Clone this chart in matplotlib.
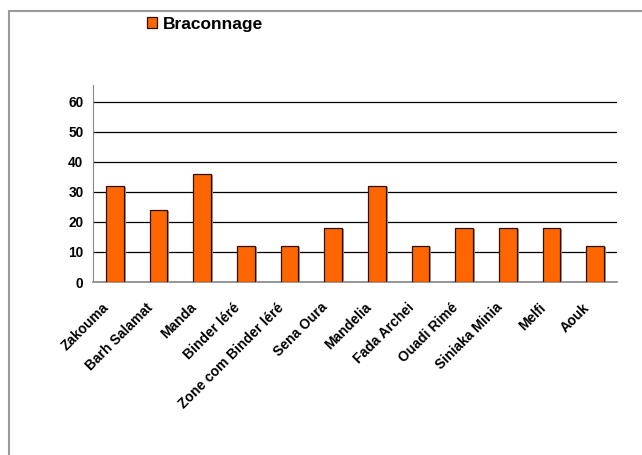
import matplotlib.pyplot as plt
import matplotlib.patheffects as pe
import matplotlib.transforms as mtransforms
from matplotlib.patches import Rectangle

plt.rcParams['font.family'] = ['Liberation Sans', 'DejaVu Sans']

sites = ["Zakouma", "Barh Salamat", "Manda", "Binder léré",
         "Zone com Binder léré", "Sena Oura", "Mandelia", "Fada Archei",
         "Ouadi Rimé", "Siniaka Minia", "Melfi", "Aouk"]
braconnage = [32, 24, 36, 12, 12, 18, 32, 12, 18, 18, 18, 12]
yticks = [0, 10, 20, 30, 40, 50, 60]

fig = plt.figure(figsize=(6.42, 4.55), dpi=100)

# outer frame of the chart area
fig.patches.append(Rectangle((9 / 642, -0.05), 1.2, 1 - 11 / 455 + 0.05,
                             transform=fig.transFigure, fill=False,
                             edgecolor="#9a9a9a", linewidth=1.5))

ax = fig.add_axes([0.1449, 0.3802, 0.8162, 0.433])

x = range(len(sites))
bars = ax.bar(x, braconnage, width=0.4, color="#FF6600",
              edgecolor="#2a1000", linewidth=0.9, label="Braconnage",
              zorder=3)
for b in bars:
    b.set_path_effects([pe.SimplePatchShadow(offset=(1.5, -1), shadow_rgbFace="#9a9a9a", alpha=1),
                        pe.Normal()])

ax.set_xlim(-0.5, len(sites) - 0.5)
ax.set_ylim(0, 65.5)
ax.set_yticks(yticks)
ax.yaxis.grid(True, color="black", linewidth=0.9, zorder=0)
ax.set_axisbelow(True)

for side in ("top", "right"):
    ax.spines[side].set_visible(False)
ax.spines["left"].set_color("#888888")
ax.spines["bottom"].set_color("#888888")
ax.spines["bottom"].set_linewidth(1.2)

ax.tick_params(axis="y", length=0, pad=7, labelsize=9.8)
ax.tick_params(axis="x", length=0, pad=4, labelsize=10)
for lbl in ax.get_yticklabels():
    lbl.set_fontweight("bold")

ax.set_xticks(list(x))
ax.set_xticklabels(sites, rotation=45, ha="right", rotation_mode="anchor",
                   fontweight="bold")
# pull the slanted labels down and left, away from the axis
shift = mtransforms.ScaledTranslation(-13 / 100, -13 / 100, fig.dpi_scale_trans)
for lbl in ax.get_xticklabels():
    lbl.set_transform(lbl.get_transform() + shift)

leg = ax.legend(loc="center left", bbox_to_anchor=(131 / 642, 1 - 24 / 455),
                bbox_transform=fig.transFigure, frameon=False,
                handlelength=0.6, handleheight=0.6, handletextpad=0.35,
                prop={"weight": "bold", "size": 12.5})
for h in leg.legend_handles:
    h.set_path_effects([])

fig.savefig("out.png", dpi=100)
